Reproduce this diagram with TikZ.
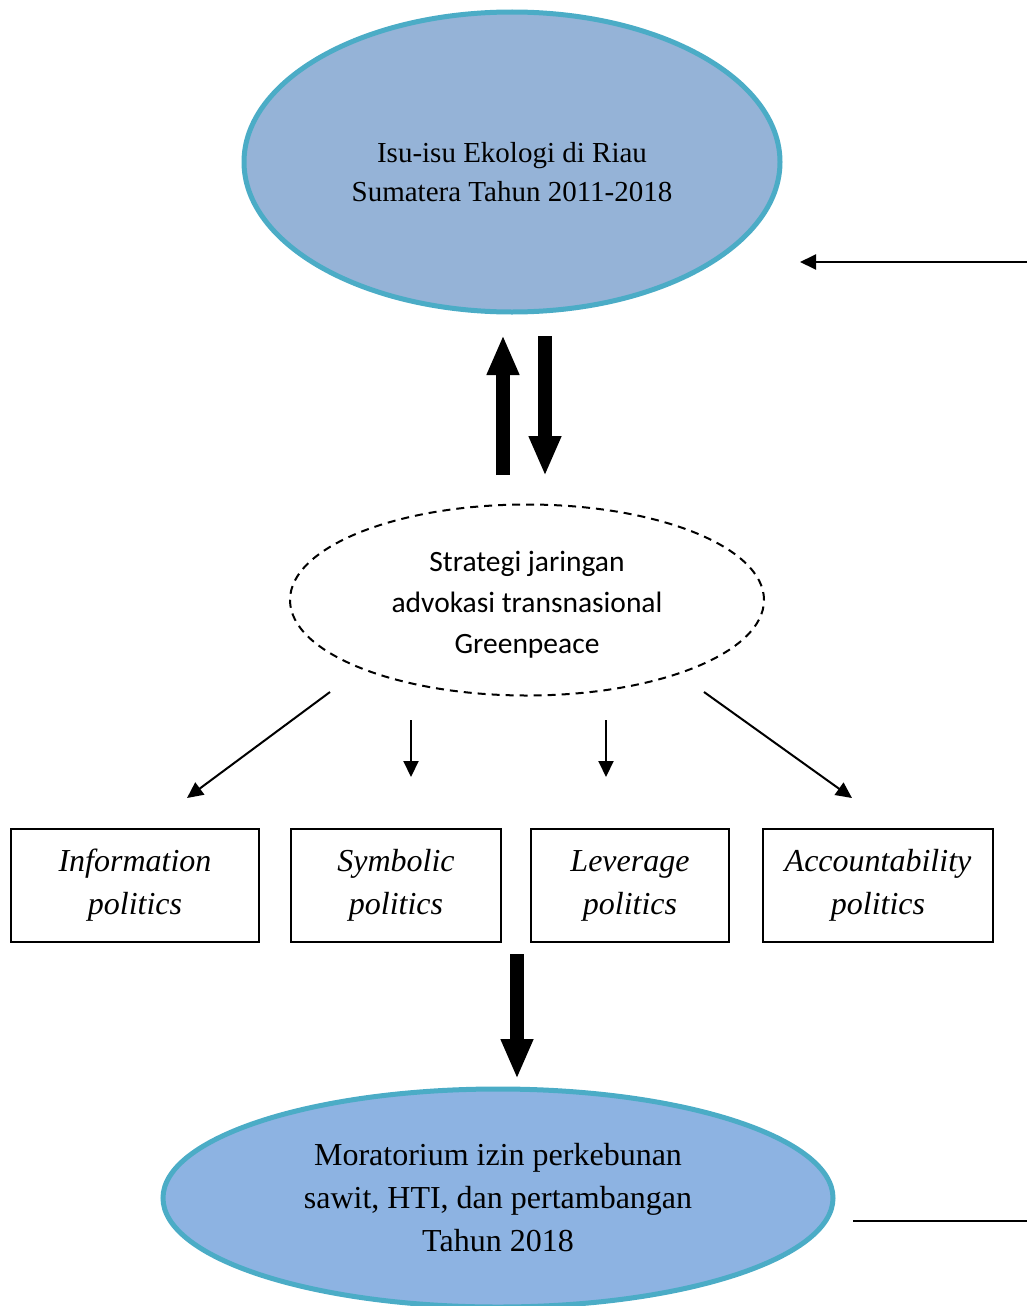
\documentclass[tikz,border=0pt]{standalone}
\usepackage{fontspec}
\setmainfont{Liberation Serif}
\newfontfamily\calib{Carlito}
\usetikzlibrary{arrows.meta,shapes.geometric}
\definecolor{teal}{HTML}{4BACC6}
\definecolor{topfill}{HTML}{95B3D7}
\definecolor{botfill}{HTML}{8DB3E2}
\begin{document}
\begin{tikzpicture}[x=1pt,y=-1pt,
  bigell/.style={ellipse,draw=teal,line width=5pt,inner sep=0pt},
  dashell/.style={ellipse,draw,line width=2pt,dash pattern=on 8pt off 6pt,inner sep=0pt},
  polbox/.style={draw,line width=1.6pt,inner sep=0pt,align=center,font=\fontsize{32}{43}\selectfont\itshape},
  thin/.style={-{Triangle[length=16pt,width=15pt]},line width=2pt},
  fat/.style={-{Triangle[length=40pt,width=30pt]},line width=14pt}]
\useasboundingbox (0,0) rectangle (1027,1306);
\node[bigell,fill=topfill,minimum width=536pt,minimum height=300pt] (top) at (512,162) {};
\node[align=center,font=\fontsize{29}{39}\selectfont] (toptxt) at (512,172) {Isu-isu Ekologi di Riau\\Sumatera Tahun 2011-2018};
\node[dashell,minimum width=474pt,minimum height=191pt] (mid) at (527,600) {};
\node[align=center,font=\calib\fontsize{29.5}{41}\selectfont] (midtxt) at (527,605) {Strategi jaringan\\advokasi transnasional\\Greenpeace};
\node[polbox,minimum width=248pt,minimum height=113pt] (b1) at (135,885.5) {Information\\politics};
\node[polbox,minimum width=210pt,minimum height=113pt] (b2) at (396,885.5) {Symbolic\\politics};
\node[polbox,minimum width=198pt,minimum height=113pt] (b3) at (630,885.5) {Leverage\\politics};
\node[polbox,minimum width=230pt,minimum height=113pt] (b4) at (878,885.5) {Accountability\\politics};
\node[bigell,fill=botfill,minimum width=670pt,minimum height=218pt,align=center,font=\fontsize{32}{43}\selectfont] (bot) at (498,1198) {Moratorium izin perkebunan\\sawit, HTI, dan pertambangan\\Tahun 2018};
% thick arrows between top and mid
\coordinate (u1) at (503,475); \coordinate (u2) at (503,335);
\coordinate (d1) at (545,336); \coordinate (d2) at (545,476);
\draw[fat] (u1) -- (u2);
\draw[fat] (d1) -- (d2);
% arrows to boxes
\coordinate (a1s) at (330,692); \coordinate (a1e) at (187,798);
\coordinate (a2s) at (411,720); \coordinate (a2e) at (411,777);
\coordinate (a3s) at (606,720); \coordinate (a3e) at (606,777);
\coordinate (a4s) at (704,692); \coordinate (a4e) at (852,798);
\draw[thin] (a1s) -- (a1e);
\draw[thin] (a2s) -- (a2e);
\draw[thin] (a3s) -- (a3e);
\draw[thin] (a4s) -- (a4e);
% big down arrow
\coordinate (g1) at (517,954); \coordinate (g2) at (517,1079);
\draw[fat] (g1) -- (g2);
% right side lines
\coordinate (r1) at (1027,262); \coordinate (r2) at (800,262);
\draw[thin] (r1) -- (r2);
\coordinate (s1) at (853,1221); \coordinate (s2) at (1027,1221);
\draw[line width=2pt] (s1) -- (s2);
\end{tikzpicture}
\end{document}
